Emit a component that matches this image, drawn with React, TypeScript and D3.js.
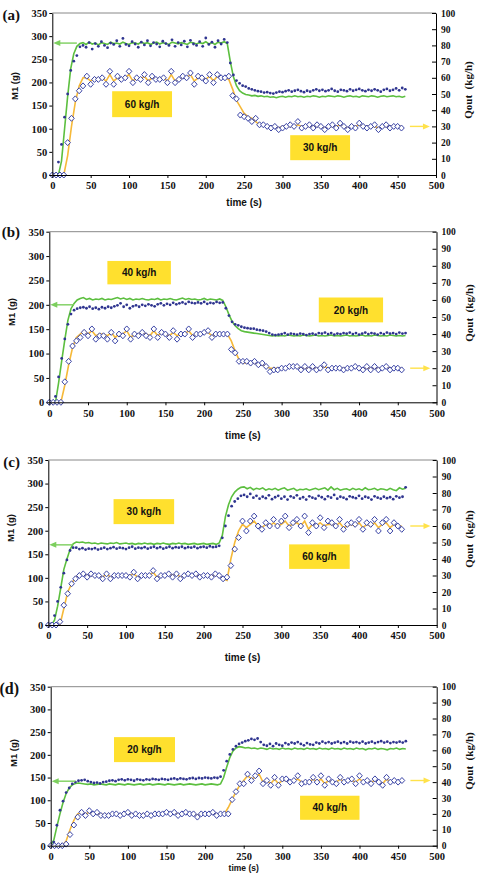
import React, { useEffect, useRef } from 'react';
import * as d3 from 'd3';

const W = 477;
const H = 873;

// sampling of the series, seconds between points
const M1_STEP = 4;
const Q_STEP = 5;

const timeTicks = [0, 50, 100, 150, 200, 250, 300, 350, 400, 450, 500];
const m1Ticks = [0, 50, 100, 150, 200, 250, 300, 350];
const qoutTicks = [0, 10, 20, 30, 40, 50, 60, 70, 80, 90, 100];

// (a) 60 -> 30 kg/h
const aM1Meas = [0, 2, 28, 66, 125, 175, 226, 246, 258, 277, 280, 276, 286, 272, 284, 278, 288, 280, 275, 285, 282, 290, 278, 295, 282, 279, 288, 283, 276, 287, 281, 290, 279, 286, 283, 277, 289, 284, 280, 292, 278, 286, 281, 289, 277, 291, 283, 280, 288, 278, 296, 282, 287, 276, 290, 283, 293, 286, 242, 216, 204, 198, 193, 191, 187, 185, 183, 181, 180, 178, 179, 177, 176, 178, 180, 179, 181, 183, 180, 182, 184, 181, 179, 182, 180, 183, 185, 182, 184, 181, 183, 186, 182, 180, 184, 183, 181, 185, 182, 184, 186, 183, 181, 184, 182, 185, 183, 180, 184, 186, 182, 184, 187, 183, 188, 185];
const aM1Model = [0, 0, 0, 30, 100, 170, 230, 262, 278, 284, 286, 282, 287, 283, 285, 281, 286, 284, 282, 287, 284, 285, 283, 287, 284, 282, 286, 285, 283, 287, 284, 286, 282, 285, 287, 283, 286, 284, 282, 287, 285, 283, 286, 284, 282, 287, 285, 283, 286, 284, 288, 283, 286, 282, 287, 285, 288, 284, 245, 212, 193, 182, 177, 174, 173, 171, 172, 170, 171, 169, 170, 168, 169, 167, 169, 170, 168, 170, 169, 171, 169, 170, 168, 170, 169, 171, 170, 168, 170, 169, 171, 170, 169, 171, 170, 168, 170, 171, 169, 170, 168, 171, 170, 169, 171, 170, 168, 170, 171, 169, 170, 171, 169, 170, 168, 170];
const aQoutMeas = [0, 0, 0, 0, 20, 35, 47, 52, 55, 61, 56, 59, 59, 60, 56, 64, 56, 61, 59, 60, 64, 57, 60, 59, 62, 57, 61, 59, 59, 60, 57, 64, 57, 59, 61, 60, 63, 56, 61, 60, 58, 62, 57, 62, 60, 60, 61, 49, 47, 37, 36, 35, 33, 35, 31, 31, 30, 29, 30, 28, 29, 30, 31, 30, 33, 29, 30, 31, 29, 31, 30, 28, 30, 31, 29, 32, 30, 28, 30, 29, 32, 30, 29, 30, 31, 28, 30, 31, 29, 30, 30, 29];
const aQoutModel = [0, 0, 0, 0, 12, 30, 45, 55, 60, 60, 58, 60, 59, 60, 58, 62, 58, 60, 59, 60, 62, 58, 60, 59, 61, 58, 60, 59, 60, 60, 58, 62, 58, 59, 60, 60, 62, 58, 60, 60, 59, 61, 58, 61, 60, 60, 59, 53, 46, 42, 38, 36, 35, 33, 31, 31, 30, 30, 30, 29, 30, 30, 30, 30, 31, 30, 30, 30, 30, 30, 30, 29, 30, 30, 30, 31, 30, 29, 30, 30, 31, 30, 30, 30, 30, 29, 30, 30, 30, 30, 30, 30];

// (b) 40 -> 20 kg/h
const bM1Meas = [0, 0, 12, 52, 90, 130, 160, 181, 189, 192, 194, 195, 193, 196, 192, 194, 191, 195, 193, 196, 194, 197, 199, 203, 196, 200, 193, 197, 199, 196, 200, 198, 201, 199, 197, 201, 203, 199, 202, 200, 204, 201, 203, 205, 202, 206, 204, 203, 205, 203, 206, 202, 204, 203, 206, 204, 205, 193, 178, 165, 160, 158, 155, 153, 152, 151, 151, 149, 148, 147, 145, 142, 139, 138, 139, 140, 142, 139, 141, 140, 139, 141, 140, 138, 140, 141, 139, 142, 141, 143, 140, 142, 139, 141, 140, 142, 141, 143, 140, 142, 139, 141, 143, 140, 142, 141, 139, 142, 140, 143, 141, 142, 140, 143, 141, 142];
const bM1Model = [0, 0, 0, 40, 85, 128, 168, 192, 203, 210, 213, 215, 211, 213, 210, 212, 211, 213, 210, 212, 211, 213, 215, 212, 214, 211, 213, 210, 212, 211, 213, 211, 210, 212, 211, 213, 210, 212, 211, 213, 211, 210, 212, 214, 211, 213, 211, 212, 210, 211, 213, 210, 212, 211, 210, 212, 209, 196, 180, 166, 157, 151, 147, 145, 144, 143, 142, 141, 140, 139, 138, 137, 136, 137, 136, 137, 136, 138, 137, 136, 137, 136, 138, 137, 136, 137, 138, 136, 137, 136, 137, 138, 136, 137, 136, 137, 138, 136, 137, 136, 137, 138, 136, 137, 136, 138, 137, 136, 137, 136, 138, 137, 136, 137, 136, 137];
const bQoutMeas = [0, 0, 0, 0, 12, 24, 33, 36, 38, 41, 39, 43, 37, 39, 39, 37, 41, 36, 40, 39, 43, 37, 40, 39, 41, 39, 38, 43, 38, 41, 40, 38, 42, 37, 40, 40, 43, 38, 40, 40, 41, 42, 38, 40, 40, 40, 40, 31, 29, 24, 24, 24, 23, 24, 22, 23, 21, 18, 19, 19, 20, 20, 21, 21, 21, 19, 21, 19, 21, 19, 20, 22, 19, 20, 20, 20, 19, 20, 20, 21, 20, 19, 21, 19, 21, 19, 20, 21, 19, 20, 20, 19];
const bQoutModel = [0, 0, 0, 0, 10, 22, 32, 38, 40, 42, 40, 42, 39, 40, 40, 39, 41, 38, 40, 40, 42, 38, 40, 40, 41, 40, 39, 42, 39, 41, 40, 39, 41, 39, 40, 40, 42, 39, 40, 40, 41, 41, 39, 40, 40, 40, 40, 36, 30, 25, 23, 23, 23, 23, 22, 22, 21, 20, 20, 20, 20, 20, 21, 21, 21, 20, 20, 20, 20, 20, 20, 21, 20, 20, 20, 20, 20, 20, 20, 21, 20, 20, 20, 20, 20, 20, 20, 21, 20, 20, 20, 20];

// (c) 30 -> 60 kg/h
const cM1Meas = [0, 3, 20, 50, 80, 110, 138, 158, 164, 164, 161, 163, 160, 162, 161, 163, 160, 162, 164, 161, 163, 165, 162, 164, 163, 161, 164, 166, 162, 164, 163, 165, 162, 164, 166, 163, 165, 162, 164, 166, 163, 165, 164, 166, 163, 165, 164, 166, 163, 165, 166, 164, 167, 165, 166, 168, 185, 210, 232, 252, 262, 268, 274, 276, 272, 278, 270, 274, 268, 272, 269, 275, 267, 271, 274, 268, 272, 266, 273, 270, 275, 268, 271, 266, 273, 270, 268, 274, 271, 267, 273, 270, 276, 268, 272, 270, 267, 273, 271, 269, 274, 268, 272, 270, 266, 273, 270, 268, 272, 269, 271, 267, 273, 270, 272, 292];
const cM1Model = [0, 0, 10, 40, 78, 118, 140, 160, 172, 176, 175, 176, 174, 175, 173, 174, 172, 174, 173, 172, 174, 173, 175, 172, 173, 174, 172, 173, 171, 173, 172, 174, 172, 173, 171, 173, 172, 174, 172, 171, 173, 172, 174, 172, 173, 171, 172, 173, 171, 172, 173, 171, 172, 173, 171, 174, 190, 230, 255, 272, 282, 288, 292, 293, 289, 292, 287, 290, 288, 291, 286, 289, 287, 290, 286, 289, 291, 286, 288, 290, 285, 288, 287, 289, 286, 288, 290, 287, 289, 291, 286, 293, 287, 290, 286, 288, 289, 286, 290, 287, 289, 286, 291, 287, 288, 290, 286, 289, 288, 286, 290, 287, 285, 291, 288, 290];
const cQoutMeas = [0, 0, 0, 2, 12, 19, 25, 28, 30, 31, 29, 31, 30, 30, 28, 31, 28, 30, 30, 30, 30, 29, 32, 28, 30, 30, 30, 33, 28, 30, 30, 31, 29, 31, 28, 30, 31, 30, 31, 29, 30, 30, 29, 31, 30, 28, 29, 36, 46, 53, 63, 57, 63, 66, 60, 58, 62, 60, 64, 60, 63, 66, 59, 62, 64, 60, 66, 56, 62, 60, 65, 59, 63, 62, 60, 64, 58, 61, 62, 61, 64, 58, 62, 61, 64, 57, 62, 64, 57, 62, 60, 58];
const cQoutModel = [0, 0, 0, 0, 10, 20, 25, 29, 31, 31, 30, 30, 30, 30, 29, 31, 29, 30, 30, 30, 30, 30, 31, 29, 30, 30, 30, 32, 29, 30, 30, 31, 30, 31, 29, 30, 31, 30, 30, 30, 30, 30, 30, 30, 30, 28, 27, 40, 50, 57, 61, 59, 61, 63, 60, 59, 61, 60, 62, 60, 61, 63, 60, 61, 62, 60, 63, 58, 61, 60, 62, 60, 61, 61, 60, 62, 59, 60, 61, 60, 62, 59, 61, 60, 62, 59, 61, 62, 59, 61, 60, 60];

// (d) 20 -> 40 kg/h
const dM1Meas = [0, 8, 45, 78, 98, 117, 127, 136, 140, 143, 144, 145, 142, 140, 138, 139, 137, 140, 141, 143, 144, 142, 145, 146, 144, 146, 145, 143, 146, 145, 144, 146, 145, 147, 146, 145, 147, 146, 145, 147, 148, 146, 148, 147, 146, 148, 149, 147, 149, 148, 150, 149, 148, 150, 149, 152, 166, 186, 201, 212, 219, 224, 227, 230, 232, 235, 233, 236, 228, 222, 220, 224, 219, 225, 222, 220, 226, 223, 227, 225, 228, 224, 221, 226, 223, 222, 227, 225, 229, 226, 228, 225, 227, 229, 226, 228, 225, 229, 227, 228, 226, 229, 225, 227, 229, 226, 228, 230, 227, 229, 226, 228, 227, 229, 227, 230];
const dM1Model = [0, 12, 42, 70, 95, 115, 127, 134, 137, 138, 137, 136, 135, 136, 134, 135, 136, 135, 134, 136, 135, 134, 136, 135, 134, 136, 135, 134, 135, 136, 134, 135, 136, 134, 135, 136, 135, 134, 136, 135, 134, 135, 136, 134, 135, 136, 135, 134, 135, 136, 134, 135, 136, 135, 134, 136, 150, 173, 194, 208, 215, 218, 217, 215, 216, 214, 215, 213, 215, 214, 212, 215, 213, 214, 212, 215, 213, 214, 212, 215, 213, 214, 212, 215, 213, 214, 212, 215, 213, 214, 212, 215, 213, 214, 212, 215, 213, 214, 212, 215, 213, 214, 211, 214, 213, 215, 212, 214, 213, 211, 214, 213, 215, 212, 214, 213];
const dQoutMeas = [0, 0, 0, 0, 1, 7, 13, 18, 21, 19, 22, 20, 21, 19, 19, 19, 20, 20, 19, 20, 21, 19, 20, 19, 19, 20, 19, 20, 20, 20, 21, 20, 21, 19, 20, 21, 20, 20, 18, 20, 20, 20, 21, 19, 20, 20, 20, 29, 34, 39, 39, 45, 41, 44, 47, 39, 41, 38, 43, 38, 42, 42, 40, 41, 44, 39, 40, 40, 43, 40, 44, 38, 42, 40, 39, 43, 40, 41, 42, 39, 44, 40, 41, 39, 42, 40, 38, 43, 40, 41, 40, 41];
const dQoutModel = [0, 0, 0, 0, 3, 10, 16, 20, 21, 20, 21, 20, 20, 20, 19, 20, 20, 20, 20, 20, 20, 20, 20, 19, 20, 20, 19, 20, 20, 20, 21, 20, 21, 20, 20, 21, 20, 20, 19, 20, 20, 20, 20, 20, 20, 20, 24, 29, 34, 38, 41, 44, 42, 43, 45, 40, 41, 39, 42, 39, 41, 41, 40, 41, 42, 40, 40, 40, 42, 40, 42, 39, 41, 40, 40, 42, 40, 41, 41, 40, 42, 40, 41, 40, 41, 40, 39, 42, 40, 41, 40, 41];

const panelNames = ['(a)', '(b)', '(c)', '(d)'];
const rateLabels = [
  ['60 kg/h', '30 kg/h'],
  ['40 kg/h', '20 kg/h'],
  ['30 kg/h', '60 kg/h'],
  ['20 kg/h', '40 kg/h'],
];
const m1ArrowAt = [285, 200, 170, 142]; // g
const qoutArrowAt = [30, 20, 60, 41]; // kg/h

const GREEN = '#5cbf3f';
const NAVY = '#2f3590';
const DIAMOND = '#3a44a6';
const ORANGE = '#f6b939';
const BOX = '#ffe02e';
const ARROW_G = '#7ccf5e';
const ARROW_Y = '#ffe24a';
const SERIF = "'Liberation Serif', 'Times New Roman', serif";
const SANS = "'Liberation Sans', Arial, sans-serif";

const series = [
  { m1Meas: aM1Meas, m1Model: aM1Model, qMeas: aQoutMeas, qModel: aQoutModel },
  { m1Meas: bM1Meas, m1Model: bM1Model, qMeas: bQoutMeas, qModel: bQoutModel },
  { m1Meas: cM1Meas, m1Model: cM1Model, qMeas: cQoutMeas, qModel: cQoutModel },
  { m1Meas: dM1Meas, m1Model: dM1Model, qMeas: dQoutMeas, qModel: dQoutModel },
];

// where each plot sits on the page (px)
const frames = [
  { left: 52.3, right: 436, top: 13, bottom: 175, titleDy: 31, titleSize: 10, tagX: 20, tagY: 19.5, tagSize: 15, m1Y: 86, qY: 90 },
  { left: 49.3, right: 436.5, top: 231.7, bottom: 402.3, titleDy: 36.5, titleSize: 10, tagX: 20, tagY: 237, tagSize: 15, m1Y: 312, qY: 313 },
  { left: 48.3, right: 436.7, top: 460, bottom: 625, titleDy: 36, titleSize: 10, tagX: 20, tagY: 467, tagSize: 15, m1Y: 528, qY: 539 },
  { left: 50.7, right: 436.7, top: 686.7, bottom: 845.7, titleDy: 25.3, titleSize: 8.5, tagX: 19, tagY: 694, tagSize: 16, m1Y: 753, qY: 761 },
];

// rate boxes in data units: [t start, t end, M1 top, M1 bottom]
const rateBoxes = [
  [[78, 156, 181, 125], [310, 388, 86, 32]],
  [[75, 157, 290, 242], [348, 431, 215, 164]],
  [[84, 162, 267, 214], [310, 388, 171, 119]],
  [[82, 161, 239, 184], [323, 400, 110, 57]],
];

const Chart = () => {
  const svgRef = useRef<SVGSVGElement>(null);

  useEffect(() => {
    const svg = d3.select(svgRef.current);
    svg.selectAll('*').remove();

    series.forEach((s, i) => {
      const f = frames[i];
      const x = d3.scaleLinear().domain([0, 500]).range([f.left, f.right]);
      const yL = d3.scaleLinear().domain([0, 350]).range([f.bottom, f.top]);
      const yR = d3.scaleLinear().domain([0, 100]).range([f.bottom, f.top]);
      const g = svg.append('g');

      // top frame line
      g.append('line')
        .attr('x1', f.left).attr('x2', f.right)
        .attr('y1', f.top).attr('y2', f.top)
        .attr('stroke', '#888').attr('stroke-width', 1);

      // yellow rate boxes
      rateBoxes[i].forEach(([t0, t1, v0, v1], k) => {
        g.append('rect')
          .attr('x', x(t0)).attr('y', yL(v0))
          .attr('width', x(t1) - x(t0)).attr('height', yL(v1) - yL(v0))
          .attr('fill', BOX);
        g.append('text')
          .attr('x', (x(t0) + x(t1)) / 2).attr('y', (yL(v0) + yL(v1)) / 2)
          .attr('dy', '0.36em')
          .attr('text-anchor', 'middle')
          .attr('font-family', SANS).attr('font-weight', 'bold').attr('font-size', 10)
          .attr('fill', '#111')
          .text(rateLabels[i][k]);
      });

      // model lines
      const m1Line = d3.line<number>().x((_, j) => x(j * M1_STEP)).y(d => yL(d));
      const qLine = d3.line<number>().x((_, j) => x(j * Q_STEP)).y(d => yR(d));
      g.append('path').attr('d', m1Line(s.m1Model))
        .attr('fill', 'none').attr('stroke', GREEN).attr('stroke-width', 1.6);
      g.append('path').attr('d', qLine(s.qModel))
        .attr('fill', 'none').attr('stroke', ORANGE).attr('stroke-width', 1.6);

      // measured M1 (small dots)
      g.append('g').selectAll('circle')
        .data(s.m1Meas)
        .enter()
        .append('circle')
        .attr('cx', (_, j) => x(j * M1_STEP))
        .attr('cy', d => yL(d))
        .attr('r', 1.4)
        .attr('fill', NAVY);

      // measured Qout (open diamonds)
      g.append('g').selectAll('path')
        .data(s.qMeas)
        .enter()
        .append('path')
        .attr('d', 'M0,-3L2.8,0L0,3L-2.8,0Z')
        .attr('transform', (d, j) => `translate(${x(j * Q_STEP)},${yR(d)})`)
        .attr('fill', '#fff')
        .attr('stroke', DIAMOND)
        .attr('stroke-width', 1);

      // green arrow -> left axis
      const ga = yL(m1ArrowAt[i]);
      g.append('line')
        .attr('x1', x(32)).attr('x2', x(0) + 5)
        .attr('y1', ga).attr('y2', ga)
        .attr('stroke', ARROW_G).attr('stroke-width', 1.4);
      g.append('path')
        .attr('d', `M${x(0) + 1},${ga}L${x(0) + 8},${ga - 3}L${x(0) + 8},${ga + 3}Z`)
        .attr('fill', ARROW_G);

      // yellow arrow -> right axis
      const ya = yR(qoutArrowAt[i]);
      g.append('line')
        .attr('x1', x(466)).attr('x2', x(486))
        .attr('y1', ya).attr('y2', ya)
        .attr('stroke', ARROW_Y).attr('stroke-width', 1.4);
      g.append('path')
        .attr('d', `M${x(492)},${ya}L${x(483)},${ya - 3}L${x(483)},${ya + 3}Z`)
        .attr('fill', ARROW_Y);

      // axes
      const styleAxis = (a, size) => {
        a.attr('font-family', SERIF).attr('font-size', size).attr('font-weight', 'bold');
        a.selectAll('text').attr('fill', '#111');
        a.selectAll('line').attr('stroke', '#000');
        a.select('.domain').attr('stroke', '#000');
      };

      const xa = g.append('g')
        .attr('transform', `translate(0,${f.bottom})`)
        .call(d3.axisBottom(x).tickValues(timeTicks).tickSizeInner(3).tickSizeOuter(0).tickPadding(4));
      styleAxis(xa, 10.5);

      const la = g.append('g')
        .attr('transform', `translate(${f.left},0)`)
        .call(d3.axisLeft(yL).tickValues(m1Ticks).tickSizeInner(3).tickSizeOuter(0).tickPadding(2));
      styleAxis(la, 10.5);

      const ra = g.append('g')
        .attr('transform', `translate(${f.right},0)`)
        .call(d3.axisRight(yR).tickValues(qoutTicks).tickSizeInner(-4).tickSizeOuter(0).tickPadding(5));
      styleAxis(ra, 9.5);

      // titles
      g.append('text')
        .attr('x', (f.left + f.right) / 2).attr('y', f.bottom + f.titleDy)
        .attr('text-anchor', 'middle')
        .attr('font-family', SANS).attr('font-weight', 'bold').attr('font-size', f.titleSize)
        .attr('fill', '#111')
        .text('time (s)');

      g.append('text')
        .attr('transform', `translate(${f.left - 34},${f.m1Y}) rotate(-90)`)
        .attr('text-anchor', 'middle')
        .attr('font-family', SANS).attr('font-weight', 'bold').attr('font-size', 9.5)
        .attr('fill', '#111')
        .text('M1 (g)');

      g.append('text')
        .attr('transform', `translate(${f.right + 36},${f.qY}) rotate(-90)`)
        .attr('text-anchor', 'middle')
        .attr('font-family', SERIF).attr('font-weight', 'bold').attr('font-size', 11)
        .attr('fill', '#111')
        .style('white-space', 'pre')
        .text('Qout  (kg/h)');

      g.append('text')
        .attr('x', f.tagX).attr('y', f.tagY)
        .attr('text-anchor', 'end')
        .attr('font-family', SERIF).attr('font-weight', 'bold').attr('font-size', f.tagSize)
        .attr('fill', '#111')
        .text(panelNames[i]);
    });
  }, []);

  return (
    <svg
      ref={svgRef}
      width={W}
      height={H}
      style={{ position: 'absolute', left: 0, top: 0, background: '#fff' }}
    />
  );
};

export default function App() {
  return <Chart />;
}
